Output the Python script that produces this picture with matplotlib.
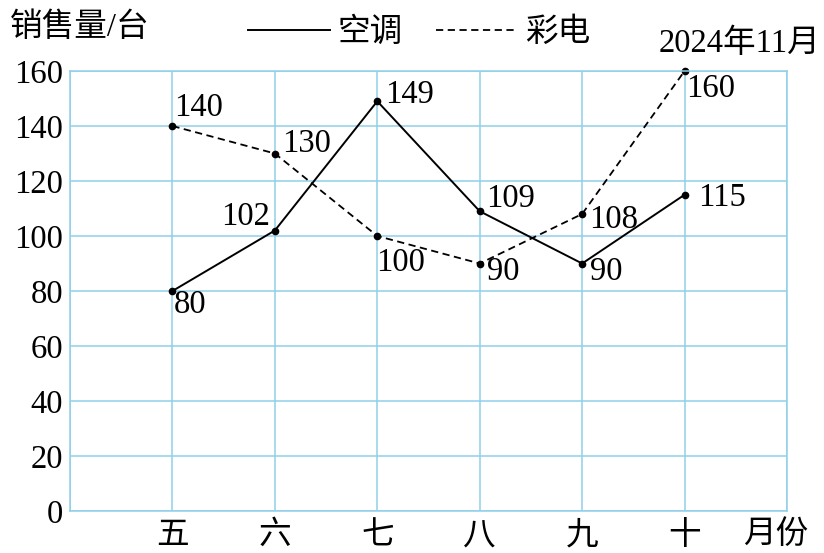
import matplotlib
matplotlib.use('Agg')
import matplotlib.pyplot as plt

plt.rcParams['font.family'] = ['Liberation Serif', 'Noto Sans CJK SC', 'DejaVu Sans']

# data
months = ['五', '六', '七', '八', '九', '十']
ac_sales = [80, 102, 149, 109, 90, 115]      # 空调
tv_sales = [140, 130, 100, 90, 108, 160]     # 彩电

# label offsets (points) for each value label
ac_offsets = [(13, -10), (-21, 10), (23, 5), (22, 9), (17, -6), (27, -2)]
tv_offsets = [(19, 13), (23, 7), (17, -19), (17, -6), (23, -4), (19, -13)]

grid_color = '#8fd0ea'
fs = 23.5

fig = plt.figure(figsize=(8.24, 5.53), dpi=100)
ax = fig.add_axes([70 / 824, 1 - 511 / 553, (787 - 70) / 824, (511 - 71) / 553])

x = list(range(1, len(months) + 1))
ax.plot(x, ac_sales, color='black', lw=1.4, marker='o', ms=4.5, label='空调',
        clip_on=False)
ax.plot(x, tv_sales, color='black', lw=1.3, ls=(0, (4, 2.5)), marker='o', ms=4.5,
        label='彩电', clip_on=False)

for xi, v, off in zip(x, ac_sales, ac_offsets):
    ax.annotate(str(v), (xi, v), xytext=off, textcoords='offset points',
                ha='center', va='center', fontsize=fs)
for xi, v, off in zip(x, tv_sales, tv_offsets):
    ax.annotate(str(v), (xi, v), xytext=off, textcoords='offset points',
                ha='center', va='center', fontsize=fs)

ax.set_xlim(0, 7)
ax.set_ylim(0, 160)
ax.set_yticks(range(0, 161, 20))
ax.set_xticks(range(0, 8))
ax.set_xticklabels([''] + months + [''])
ax.tick_params(length=0, labelsize=fs, pad=5)
ax.tick_params(axis='x', pad=7)
ax.grid(True, color=grid_color, lw=1.1)
ax.set_axisbelow(True)
for s in ax.spines.values():
    s.set_color(grid_color)
    s.set_linewidth(1.1)

fig.text(776 / 824, 1 - 535 / 553, '月份', ha='center', va='center', fontsize=fs)
fig.text(10 / 824, 1 - 28 / 553, '销售量/台', ha='left', va='center', fontsize=fs)
fig.text(820 / 824, 1 - 44 / 553, '2024年11月', ha='right', va='center', fontsize=fs)

ax.legend(ncol=2, frameon=False, fontsize=fs, loc='center left',
          bbox_to_anchor=(248 / 824, 1 - 33 / 553), bbox_transform=fig.transFigure,
          borderpad=0, borderaxespad=0, handlelength=2.5, handletextpad=0.25,
          columnspacing=1.0, markerscale=0)

fig.savefig('out.png', dpi=100)
